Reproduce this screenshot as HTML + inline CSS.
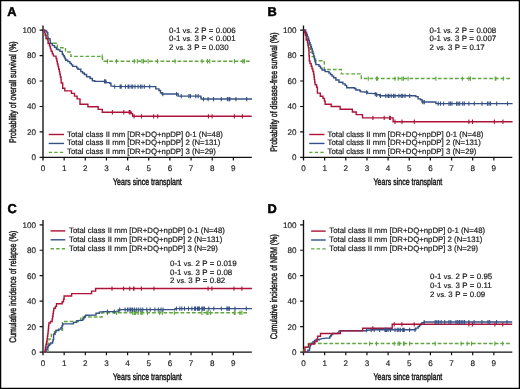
<!DOCTYPE html>
<html><head><meta charset="utf-8"><style>
html,body{margin:0;padding:0;background:#fff}
svg{display:block;will-change:transform}
text{font-family:"Liberation Sans", sans-serif;fill:#1a1a1a;text-rendering:geometricPrecision}
.tk{font-size:8.1px;stroke:#1a1a1a;stroke-width:0.15px}
.ti{font-size:9.6px;stroke:#1a1a1a;stroke-width:0.45px}
.pl{font-size:12.8px;font-weight:bold;fill:#000;stroke:#000;stroke-width:0.5px}
.pv{font-size:7.9px;word-spacing:0.25px;stroke:#1a1a1a;stroke-width:0.2px}
.lg{font-size:7.8px;stroke:#1a1a1a;stroke-width:0.2px}
</style></head><body>
<svg width="520" height="389" viewBox="0 0 520 389">
<rect x="0.6" y="0.6" width="518.8" height="387.8" fill="#fff" stroke="#000" stroke-width="1.3"/>
<g><path d="M43 160.6V25.4M39.6 157.4H251.8" stroke="#111" stroke-width="1.35" fill="none"/><path d="M39.6 131.94H43M39.6 106.48H43M39.6 81.02H43M39.6 55.56H43M39.6 30.1H43M64.15 157.4V160.6M85.3 157.4V160.6M106.45 157.4V160.6M127.6 157.4V160.6M148.75 157.4V160.6M169.9 157.4V160.6M191.05 157.4V160.6M212.2 157.4V160.6M233.35 157.4V160.6" stroke="#111" stroke-width="1.2" fill="none"/><text x="36.1" y="160.3" text-anchor="end" class="tk">0</text><text x="36.1" y="134.84" text-anchor="end" class="tk">20</text><text x="36.1" y="109.38" text-anchor="end" class="tk">40</text><text x="36.1" y="83.92" text-anchor="end" class="tk">60</text><text x="36.1" y="58.46" text-anchor="end" class="tk">80</text><text x="36.1" y="33" text-anchor="end" class="tk">100</text><text x="43" y="171" text-anchor="middle" class="tk">0</text><text x="64.15" y="171" text-anchor="middle" class="tk">1</text><text x="85.3" y="171" text-anchor="middle" class="tk">2</text><text x="106.45" y="171" text-anchor="middle" class="tk">3</text><text x="127.6" y="171" text-anchor="middle" class="tk">4</text><text x="148.75" y="171" text-anchor="middle" class="tk">5</text><text x="169.9" y="171" text-anchor="middle" class="tk">6</text><text x="191.05" y="171" text-anchor="middle" class="tk">7</text><text x="212.2" y="171" text-anchor="middle" class="tk">8</text><text x="233.35" y="171" text-anchor="middle" class="tk">9</text><text transform="translate(16.2 92.1) rotate(-90) scale(0.73 1)" text-anchor="middle" class="ti">Probability of overall survival (%)</text><text transform="translate(147.4 184.8) scale(0.73 1)" text-anchor="middle" class="ti">Years since transplant</text><text x="7.3" y="15.8" class="pl">A</text><text x="169" y="32.5" class="pv">0-1 <tspan font-size="7.1px">vs.</tspan> 2 P = 0.006</text><text x="169" y="41.3" class="pv">0-1 <tspan font-size="7.1px">vs.</tspan> 3 P &lt; 0.001</text><text x="169" y="50.1" class="pv">2 <tspan font-size="7.1px">vs.</tspan> 3 P = 0.030</text><path d="M48.7 134.5H64" stroke="#ae1238" stroke-width="1.4" fill="none"/><text x="67.1" y="136.6" class="lg">Total class II mm [DR+DQ+npDP] 0-1 (N=48)</text><path d="M48.7 143.45H64" stroke="#355184" stroke-width="1.4" fill="none"/><text x="67.1" y="145.3" class="lg">Total class II mm [DR+DQ+npDP] 2 (N=131)</text><path d="M48.7 152.4H64" stroke="#60a640" stroke-width="1.4" stroke-dasharray="3.3 2.3" fill="none"/><text x="67.1" y="154" class="lg">Total class II mm [DR+DQ+npDP] 3 (N=29)</text><path d="M43.3 30.2L44.6 30.2L44.6 34.6L46.2 34.6L46.2 39L48.3 39L48.3 43.2L57.4 43.2L57.4 47.7L65.5 47.7L65.5 52L70.9 52L70.9 56.4L102.5 56.4L102.5 61.2L251.4 61.2L251.4 61.2" stroke="#60a640" stroke-width="1.4" fill="none" stroke-dasharray="3.7 2"/><path d="M43.3 30.2L46 30.5L46.3 31.5L47 31.5L47 32.7L47.8 32.7L47.8 35.2L48.1 38.1L49.6 38.6L49.95 38.6L49.95 40.15L50.3 40.15L50.3 41.7L50.6 43.5L52.4 43.5L52.4 45.6L54.6 45.6L54.6 47.4L56.4 47.4L56.4 49.2L58.2 49.2L58.2 49.9L60 49.9L60 51.4L62.3 51.4L62.3 54.2L63.3 54.2L63.3 55.7L64.3 55.7L64.3 57.2L65 57.2L65 58.75L65.7 58.75L65.7 60.3L67.8 60.3L67.8 61.6L70 61.6L70 63.4L71.35 63.4L71.35 64.9L72.7 64.9L72.7 66.4L75.6 66.4L76.75 66.4L76.75 67.85L77.9 67.85L77.9 69.3L80.8 69.3L80.8 71.6L82.55 71.6L82.55 73.05L84.3 73.05L84.3 74.5L86.6 74.5L86.6 76.8L90.1 76.8L90.1 78.5L92.4 78.5L92.4 80.8L94.7 80.8L94.7 81.4L103.9 81.4L106.2 81.4L106.2 82.6L109.7 82.6L109.7 83.2L110.9 83.2L110.9 86L114.3 86.4L154.3 86.6L155.8 86.6L155.8 88.9L158.9 88.9L158.9 90.5L160.5 90.5L160.5 92.8L162 92.8L162 94L176.6 94L178.2 94L178.2 96.1L200.5 96.1L200.85 96.1L200.85 97.55L201.2 97.55L201.2 99L252.1 99" stroke="#355184" stroke-width="1.4" fill="none"/><path d="M43.3 30.2L44.3 30.4L44.6 32.8L45.2 33L45.3 35.5L46 35.6L46 38.3L47.6 38.3L47.9 40.9L48.2 40.9L48.2 43.5L49.4 43.5L49.6 46.1L50.2 46.1L50.4 48.7L51 48.8L51.2 51.3L52.2 51.3L52.4 53.9L53.3 53.9L53.4 55.9L56 56.2L56.2 58.8L56.8 58.8L56.9 61.4L57.3 61.4L57.4 64L58 64L58.1 66.6L58.6 66.6L58.7 69.2L59.3 69.2L59.4 71.8L59.8 71.8L59.9 74.4L60.3 74.4L60.4 77L61 77L61 79.6L61.2 79.6L61.2 83L62.7 83L62.7 88.3L64.8 88.3L64.8 90.9L71.5 90.9L71.5 93.4L74.5 93.4L74.5 96.1L77.1 96.1L77.1 98.9L80 98.9L80 104.3L87.9 104.3L87.9 106.8L98.2 106.8L98.2 109.4L102.3 109.4L102.3 112.2L131.4 112.2L131.4 113.6L132.6 113.6L132.6 116.3L251.7 116.3" stroke="#ae1238" stroke-width="1.4" fill="none"/><path d="M102.2 54.3V58.6M107.4 59.1V63.4M116.5 59.1V63.4M134.3 59.1V63.4M137.3 59.1V63.4M142 59.1V63.4M143.5 59.1V63.4M148.1 59.1V63.4M157.4 59.1V63.4M175.1 59.1V63.4M202 59.1V63.4M207.4 59.1V63.4M209.7 59.1V63.4M234.4 59.1V63.4M242.9 59.1V63.4M244.4 59.1V63.4" stroke="#60a640" stroke-width="1.1" fill="none"/><path d="M104.5 79.3V83.6M105.7 79.3V83.6M114.7 84.4V88.7M120.1 84.4V88.7M121.2 84.4V88.7M125.5 84.4V88.7M128.1 84.4V88.7M128.9 84.4V88.7M131.2 84.4V88.7M132.7 84.4V88.7M135 84.4V88.7M138.1 84.4V88.7M140.4 84.4V88.7M142 84.4V88.7M144.3 84.4V88.7M149.7 84.4V88.7M162.8 91.9V96.2M176.6 91.9V96.2M181.3 94V98.3M188.9 94V98.3M190.4 94V98.3M195.8 94V98.3M198.1 94V98.3M203.5 96.9V101.2M208.1 96.9V101.2M213.5 96.9V101.2M221.3 96.9V101.2M227.4 96.9V101.2M229 96.9V101.2M229.8 96.9V101.2M235.9 96.9V101.2M246.7 96.9V101.2" stroke="#355184" stroke-width="1.1" fill="none"/><path d="M112.4 110.1V114.4M123.8 110.1V114.4M129.2 110.1V114.4M130.1 110.1V114.4M134.1 114.2V118.5M141.5 114.2V118.5M153.6 114.2V118.5M157.7 114.2V118.5M208.4 114.2V118.5M212.1 114.2V118.5M234.4 114.2V118.5M242.4 114.2V118.5" stroke="#ae1238" stroke-width="1.1" fill="none"/></g>
<g><path d="M303.5 160.6V25.4M300.1 157.4H512.3" stroke="#111" stroke-width="1.35" fill="none"/><path d="M300.1 131.94H303.5M300.1 106.48H303.5M300.1 81.02H303.5M300.1 55.56H303.5M300.1 30.1H303.5M324.65 157.4V160.6M345.8 157.4V160.6M366.95 157.4V160.6M388.1 157.4V160.6M409.25 157.4V160.6M430.4 157.4V160.6M451.55 157.4V160.6M472.7 157.4V160.6M493.85 157.4V160.6" stroke="#111" stroke-width="1.2" fill="none"/><text x="296.6" y="160.3" text-anchor="end" class="tk">0</text><text x="296.6" y="134.84" text-anchor="end" class="tk">20</text><text x="296.6" y="109.38" text-anchor="end" class="tk">40</text><text x="296.6" y="83.92" text-anchor="end" class="tk">60</text><text x="296.6" y="58.46" text-anchor="end" class="tk">80</text><text x="296.6" y="33" text-anchor="end" class="tk">100</text><text x="303.5" y="171" text-anchor="middle" class="tk">0</text><text x="324.65" y="171" text-anchor="middle" class="tk">1</text><text x="345.8" y="171" text-anchor="middle" class="tk">2</text><text x="366.95" y="171" text-anchor="middle" class="tk">3</text><text x="388.1" y="171" text-anchor="middle" class="tk">4</text><text x="409.25" y="171" text-anchor="middle" class="tk">5</text><text x="430.4" y="171" text-anchor="middle" class="tk">6</text><text x="451.55" y="171" text-anchor="middle" class="tk">7</text><text x="472.7" y="171" text-anchor="middle" class="tk">8</text><text x="493.85" y="171" text-anchor="middle" class="tk">9</text><text transform="translate(276.7 92.1) rotate(-90) scale(0.73 1)" text-anchor="middle" class="ti">Probability of disease-free survival (%)</text><text transform="translate(407.9 184.8) scale(0.73 1)" text-anchor="middle" class="ti">Years since transplant</text><text x="267.5" y="15.8" class="pl">B</text><text x="429.6" y="32.5" class="pv">0-1 <tspan font-size="7.1px">vs.</tspan> 2 P = 0.008</text><text x="429.6" y="41.3" class="pv">0-1 <tspan font-size="7.1px">vs.</tspan> 3 P = 0.007</text><text x="429.6" y="50.1" class="pv">2 <tspan font-size="7.1px">vs.</tspan> 3 P = 0.17</text><path d="M309.2 134.5H324.5" stroke="#ae1238" stroke-width="1.4" fill="none"/><text x="327.6" y="136.6" class="lg">Total class II mm [DR+DQ+npDP] 0-1 (N=48)</text><path d="M309.2 143.45H324.5" stroke="#355184" stroke-width="1.4" fill="none"/><text x="327.6" y="145.3" class="lg">Total class II mm [DR+DQ+npDP] 2 (N=131)</text><path d="M309.2 152.4H324.5" stroke="#60a640" stroke-width="1.4" stroke-dasharray="3.3 2.3" fill="none"/><text x="327.6" y="154" class="lg">Total class II mm [DR+DQ+npDP] 3 (N=29)</text><path d="M303.8 30.2L305 30.2L305 34.6L306.6 34.6L306.6 39L308.2 39L308.2 43.4L309.3 43.4L309.3 47.8L310.4 47.8L310.4 52.2L312.2 52.2L312.2 56.6L315.6 56.6L315.6 60.8L324.3 60.8L324.3 69.5L341.3 69.5L341.3 73.9L361.3 73.9L361.3 78.5L511.7 78.5L511.7 78.5" stroke="#60a640" stroke-width="1.4" fill="none" stroke-dasharray="3.7 2"/><path d="M303.8 30.2L304.8 30.3L305.7 30.3L305.7 32.4L306.6 32.4L306.6 34.5L307.3 34.5L307.3 36.35L308 36.35L308 38.2L308.7 38.2L308.7 40.5L309.4 40.5L309.4 42.8L310.1 42.8L310.1 44.65L310.8 44.65L310.8 46.5L311.5 46.5L311.5 48.8L312.2 48.8L312.2 51.1L312.9 51.1L312.9 53.45L313.6 53.45L313.6 55.8L314.05 55.8L314.05 57.65L314.5 57.65L314.5 59.5L314.97 59.5L314.97 61.2L315.43 61.2L315.43 62.9L315.9 62.9L315.9 64.6L319 64.6L319 66.2L320.5 66.2L320.5 68.1L322 68.1L322 70L325.1 70L325.1 71.6L329 71.6L329 73.1L330.5 73.1L330.5 74.6L332.05 74.6L332.05 76.15L333.6 76.15L333.6 77.7L335.9 77.7L335.9 80L339 80L339 82.3L342.8 82.3L342.8 83.9L345.1 83.9L345.1 85.4L346.7 85.4L346.7 87.7L354.4 87.7L354.4 88.5L355.9 88.5L355.9 90L359.8 90L359.8 90.8L360.5 90.8L360.5 91.6L365.2 92L367.5 92L367.5 93.1L374.4 93.6L376 93.6L376 94.7L379.6 94.7L379.6 95.8L414.3 95.8L415.8 95.8L415.8 96.6L418.1 96.6L418.1 98.9L420.5 98.9L420.5 99.7L422 99.7L422 102L434.3 102L435.9 102L435.9 103.6L512.6 103.6" stroke="#355184" stroke-width="1.4" fill="none"/><path d="M303.8 30.2L304.6 30.2L304.6 32.8L305.4 32.8L305.4 35.4L306.2 35.4L306.2 40L307.5 40L307.5 42.6L307.9 42.6L307.9 45.3L308.4 45.3L308.4 47.9L308.8 47.9L308.8 50.5L309 50.5L309 55.8L309.3 55.8L309.3 61L310 61L310 63.6L311.2 63.6L311.2 66.3L312 66.3L312 68.9L312.9 68.9L312.9 71.5L313.6 71.5L313.6 74.2L314 74.2L314 76.8L314.3 76.8L314.3 79.4L314.7 79.4L314.7 82.1L315.1 82.1L315.1 84.7L316.6 84.7L316.6 87.3L317.4 87.3L317.4 93.1L320.3 93.1L320.3 96.2L323 96.2L323 98.4L324.4 98.4L324.4 101L325.1 101L325.1 104.2L331.2 104.2L331.2 106.5L340.1 106.5L340.1 109.3L352.4 109.3L352.4 112L356.2 112L356.2 114.6L362.5 114.6L362.5 117.9L393.1 117.9L393.1 121.7L512.6 121.7L512.6 121.7" stroke="#ae1238" stroke-width="1.4" fill="none"/><path d="M368.3 76.4V80.7M376.5 76.4V80.7M377.5 76.4V80.7M395 76.4V80.7M398.1 76.4V80.7M402 76.4V80.7M403.5 76.4V80.7M408.1 76.4V80.7M435.9 76.4V80.7M462.3 76.4V80.7M468.9 76.4V80.7M470.5 76.4V80.7M495.2 76.4V80.7M495.9 76.4V80.7M503.3 76.4V80.7" stroke="#60a640" stroke-width="1.1" fill="none"/><path d="M366.7 90.3V94.6M375.2 91.9V96.2M376.7 92.6V96.9M380.4 93.7V98M385.8 93.7V98M388.1 93.7V98M388.9 93.7V98M391.2 93.7V98M393.5 93.7V98M395 93.7V98M398.9 93.7V98M401.2 93.7V98M402.7 93.7V98M405 93.7V98M409.7 93.7V98M422.8 99.9V104.2M424.3 99.9V104.2M438.2 101.5V105.8M440.5 101.5V105.8M443.6 101.5V105.8M448.9 101.5V105.8M450.4 101.5V105.8M451.9 101.5V105.8M456.6 101.5V105.8M458.1 101.5V105.8M459.7 101.5V105.8M462.7 101.5V105.8M464.3 101.5V105.8M468.9 101.5V105.8M474.3 101.5V105.8M482 101.5V105.8M487.4 101.5V105.8M489 101.5V105.8M490.5 101.5V105.8M496.7 101.5V105.8M507.5 101.5V105.8" stroke="#355184" stroke-width="1.1" fill="none"/><path d="M372.9 115.8V120.1M384.2 115.8V120.1M389.6 115.8V120.1M390.4 115.8V120.1M395 119.6V123.9M402 119.6V123.9M414.3 119.6V123.9M468.9 119.6V123.9M472.5 119.6V123.9M494.4 119.6V123.9M502.9 119.6V123.9" stroke="#ae1238" stroke-width="1.1" fill="none"/></g>
<g><path d="M43 355.3V220.1M39.6 352.1H251.8" stroke="#111" stroke-width="1.35" fill="none"/><path d="M39.6 326.64H43M39.6 301.18H43M39.6 275.72H43M39.6 250.26H43M39.6 224.8H43M64.15 352.1V355.3M85.3 352.1V355.3M106.45 352.1V355.3M127.6 352.1V355.3M148.75 352.1V355.3M169.9 352.1V355.3M191.05 352.1V355.3M212.2 352.1V355.3M233.35 352.1V355.3" stroke="#111" stroke-width="1.2" fill="none"/><text x="36.1" y="355" text-anchor="end" class="tk">0</text><text x="36.1" y="329.54" text-anchor="end" class="tk">20</text><text x="36.1" y="304.08" text-anchor="end" class="tk">40</text><text x="36.1" y="278.62" text-anchor="end" class="tk">60</text><text x="36.1" y="253.16" text-anchor="end" class="tk">80</text><text x="36.1" y="227.7" text-anchor="end" class="tk">100</text><text x="43" y="365.7" text-anchor="middle" class="tk">0</text><text x="64.15" y="365.7" text-anchor="middle" class="tk">1</text><text x="85.3" y="365.7" text-anchor="middle" class="tk">2</text><text x="106.45" y="365.7" text-anchor="middle" class="tk">3</text><text x="127.6" y="365.7" text-anchor="middle" class="tk">4</text><text x="148.75" y="365.7" text-anchor="middle" class="tk">5</text><text x="169.9" y="365.7" text-anchor="middle" class="tk">6</text><text x="191.05" y="365.7" text-anchor="middle" class="tk">7</text><text x="212.2" y="365.7" text-anchor="middle" class="tk">8</text><text x="233.35" y="365.7" text-anchor="middle" class="tk">9</text><text transform="translate(16.2 286.8) rotate(-90) scale(0.73 1)" text-anchor="middle" class="ti">Cumulative incidence of relapse (%)</text><text transform="translate(147.4 379.5) scale(0.73 1)" text-anchor="middle" class="ti">Years since transplant</text><text x="7.6" y="213.4" class="pl">C</text><text x="170" y="265.8" class="pv">0-1 <tspan font-size="7.1px">vs.</tspan> 2 P = 0.019</text><text x="170" y="274.6" class="pv">0-1 <tspan font-size="7.1px">vs.</tspan> 3 P = 0.08</text><text x="170" y="283.4" class="pv">2 <tspan font-size="7.1px">vs.</tspan> 3 P = 0.82</text><path d="M50.6 230.9H65.3" stroke="#ae1238" stroke-width="1.4" fill="none"/><text x="69.1" y="233.1" class="lg">Total class II mm [DR+DQ+npDP] 0-1 (N=48)</text><path d="M50.6 239.8H65.3" stroke="#355184" stroke-width="1.4" fill="none"/><text x="69.1" y="241.9" class="lg">Total class II mm [DR+DQ+npDP] 2 (N=131)</text><path d="M50.6 248.7H65.3" stroke="#60a640" stroke-width="1.4" stroke-dasharray="3.3 2.3" fill="none"/><text x="69.1" y="250.7" class="lg">Total class II mm [DR+DQ+npDP] 3 (N=29)</text><path d="M43.3 352.1L48 352.1L48 343.3L48.9 343.3L48.9 339L51.3 339L51.3 334.5L54.5 334.5L54.5 330.2L62.5 330.2L62.5 321.5L80.8 321.5L80.8 317L102 317L102 312.7L249 312.7L249 312.7" stroke="#60a640" stroke-width="1.4" fill="none" stroke-dasharray="3.7 2"/><path d="M43.3 352.1L45.2 352.1L45.2 351.3L46.15 351.3L46.15 349.45L47.1 349.45L47.1 347.6L47.8 347.6L47.8 346.45L48.5 346.45L48.5 345.3L49.65 345.3L49.65 344.15L50.8 344.15L50.8 343L52.6 343L52.6 341.1L53.1 341.1L53.1 339.5L53.6 339.5L53.6 337.9L53.6 334.2L55 334.2L55 332.4L55.9 332.4L55.9 330.5L58.7 330.5L58.7 329.1L61 329.1L61 327.7L61.9 327.7L61.9 325.9L62.7 325.9L62.7 323.9L71.2 323.9L73.5 323.9L73.5 322.4L76.6 322.4L76.6 320.9L79.7 320.4L82.7 320.4L82.7 319L83.67 319L83.67 317.73L84.63 317.73L84.63 316.47L85.6 316.47L85.6 315.2L95.4 315L96 315L96 313.3L99.4 313.3L99.4 312.1L104.3 311.6L114.3 311.6L118.2 311.6L118.2 310L122 309.6L173 309.6L175 309.6L175 308.6L251.9 308.6" stroke="#355184" stroke-width="1.4" fill="none"/><path d="M43.3 352.1L45.2 352.1L45.2 349.5L45.5 349.5L45.5 346.8L46 346.8L46 344.2L46.6 344.2L46.6 341.5L47.1 341.5L47.1 338.9L47.4 338.9L47.4 336.2L47.8 336.2L47.8 333.6L48.1 333.6L48.1 330.9L48.4 330.9L48.4 328.3L48.6 328.3L48.6 325.6L48.9 325.6L48.9 323L50.5 323L50.5 321.5L52.2 321.5L52.2 318.8L52.6 318.8L52.6 316.2L53 316.2L53 313.5L53.4 313.5L53.4 310.9L53.8 310.9L53.8 308.2L55.4 308.2L55.4 306.4L56.5 306.4L56.5 303.7L62.2 303.7L62.2 301.8L63.5 301.8L63.5 299.2L64.1 299.2L64.1 296L71.6 296L71.6 293.6L91.6 293.6L91.6 291.1L95.6 291.1L95.6 288.5L251.9 288.5L251.9 288.5" stroke="#ae1238" stroke-width="1.4" fill="none"/><path d="M107.4 310.6V314.9M116.6 310.6V314.9M132.7 310.6V314.9M134.3 310.6V314.9M135.4 310.6V314.9M138.1 310.6V314.9M140.8 310.6V314.9M142.1 310.6V314.9M147.5 310.6V314.9M159.6 310.6V314.9M162.3 310.6V314.9M174.4 310.6V314.9M201.9 310.6V314.9M206.9 310.6V314.9M208.1 310.6V314.9M210.6 310.6V314.9M234.4 310.6V314.9M235 310.6V314.9M240 310.6V314.9M241.9 310.6V314.9" stroke="#60a640" stroke-width="1.1" fill="none"/><path d="M107.4 309.5V313.8M114.3 309.5V313.8M119.7 307.5V311.8M125.1 307.5V311.8M127.4 307.5V311.8M129 307.5V311.8M130.5 307.5V311.8M132.8 307.5V311.8M132 307.5V311.8M134.7 307.5V311.8M136.7 307.5V311.8M138.7 307.5V311.8M140.8 307.5V311.8M142.8 307.5V311.8M146.8 307.5V311.8M150.2 307.5V311.8M154.9 307.5V311.8M158.3 307.5V311.8M161 307.5V311.8M163 307.5V311.8M176.4 306.5V310.8M179.8 306.5V310.8M181.8 306.5V310.8M184.5 306.5V310.8M188.5 306.5V310.8M191.9 306.5V310.8M194.6 306.5V310.8M198.6 306.5V310.8M195.6 306.5V310.8M197.5 306.5V310.8M199.4 306.5V310.8M201.9 306.5V310.8M203.1 306.5V310.8M204.4 306.5V310.8M208.8 306.5V310.8M213.8 306.5V310.8M221.3 306.5V310.8M226.9 306.5V310.8M228.1 306.5V310.8M229.4 306.5V310.8M235 306.5V310.8M246.3 306.5V310.8" stroke="#355184" stroke-width="1.1" fill="none"/><path d="M112 286.4V290.7M123.6 286.4V290.7M129.7 286.4V290.7M133.6 286.4V290.7M134 286.4V290.7M141.4 286.4V290.7M154 286.4V290.7M208.1 286.4V290.7M211.9 286.4V290.7M234 286.4V290.7M241.9 286.4V290.7" stroke="#ae1238" stroke-width="1.1" fill="none"/></g>
<g><path d="M303.5 355.3V220.1M300.1 352.1H512.3" stroke="#111" stroke-width="1.35" fill="none"/><path d="M300.1 326.64H303.5M300.1 301.18H303.5M300.1 275.72H303.5M300.1 250.26H303.5M300.1 224.8H303.5M324.65 352.1V355.3M345.8 352.1V355.3M366.95 352.1V355.3M388.1 352.1V355.3M409.25 352.1V355.3M430.4 352.1V355.3M451.55 352.1V355.3M472.7 352.1V355.3M493.85 352.1V355.3" stroke="#111" stroke-width="1.2" fill="none"/><text x="296.6" y="355" text-anchor="end" class="tk">0</text><text x="296.6" y="329.54" text-anchor="end" class="tk">20</text><text x="296.6" y="304.08" text-anchor="end" class="tk">40</text><text x="296.6" y="278.62" text-anchor="end" class="tk">60</text><text x="296.6" y="253.16" text-anchor="end" class="tk">80</text><text x="296.6" y="227.7" text-anchor="end" class="tk">100</text><text x="303.5" y="365.7" text-anchor="middle" class="tk">0</text><text x="324.65" y="365.7" text-anchor="middle" class="tk">1</text><text x="345.8" y="365.7" text-anchor="middle" class="tk">2</text><text x="366.95" y="365.7" text-anchor="middle" class="tk">3</text><text x="388.1" y="365.7" text-anchor="middle" class="tk">4</text><text x="409.25" y="365.7" text-anchor="middle" class="tk">5</text><text x="430.4" y="365.7" text-anchor="middle" class="tk">6</text><text x="451.55" y="365.7" text-anchor="middle" class="tk">7</text><text x="472.7" y="365.7" text-anchor="middle" class="tk">8</text><text x="493.85" y="365.7" text-anchor="middle" class="tk">9</text><text transform="translate(276.7 286.8) rotate(-90) scale(0.73 1)" text-anchor="middle" class="ti">Cumulative incidence of NRM (%)</text><text transform="translate(407.9 379.5) scale(0.73 1)" text-anchor="middle" class="ti">Years since transplant</text><text x="267.5" y="213.4" class="pl">D</text><text x="430" y="278.9" class="pv">0-1 <tspan font-size="7.1px">vs.</tspan> 2 P = 0.95</text><text x="430" y="287.7" class="pv">0-1 <tspan font-size="7.1px">vs.</tspan> 3 P = 0.11</text><text x="430" y="296.5" class="pv">2 <tspan font-size="7.1px">vs.</tspan> 3 P = 0.09</text><path d="M311.1 231.1H325.7" stroke="#ae1238" stroke-width="1.4" fill="none"/><text x="329.3" y="233.3" class="lg">Total class II mm [DR+DQ+npDP] 0-1 (N=48)</text><path d="M311.1 240H325.7" stroke="#355184" stroke-width="1.4" fill="none"/><text x="329.3" y="242.1" class="lg">Total class II mm [DR+DQ+npDP] 2 (N=131)</text><path d="M311.1 248.9H325.7" stroke="#60a640" stroke-width="1.4" stroke-dasharray="3.3 2.3" fill="none"/><text x="329.3" y="250.9" class="lg">Total class II mm [DR+DQ+npDP] 3 (N=29)</text><path d="M303.8 352.1L304.2 352.1L304.2 347.2L308.5 347.2L308.5 343.5L511.3 343.5L511.3 343.5" stroke="#60a640" stroke-width="1.4" fill="none" stroke-dasharray="3.7 2"/><path d="M303.8 352.1L304.3 351.9L307.8 351.9L307.8 350.2L309.5 350.2L309.5 348.4L309.8 348.4L309.8 347L310.1 347L310.1 345.6L310.65 345.6L310.65 344.45L311.2 344.45L311.2 343.3L313 343.3L313 341.8L314.7 341.8L314.7 340.4L317 339.8L319.3 339.8L319.3 339.2L322.2 338.6L326.2 338.1L329.7 338.1L329.7 336.9L330.55 336.9L330.55 335.75L331.4 335.75L331.4 334.6L332.6 334.6L332.6 333.5L337.8 333.5L337.8 332.9L338.9 332.9L338.9 331.1L340.1 330.6L364.2 330.8L366.5 330.8L366.5 330.2L373.5 329.8L415 329.8L415.8 329.8L415.8 328.1L418.1 328.1L418.1 326.5L419.6 326.5L419.6 325L420.75 325L420.75 323.85L421.9 323.85L421.9 322.7L424.2 322.7L424.2 322L512.2 322" stroke="#355184" stroke-width="1.4" fill="none"/><path d="M303.8 352.1L305 352.1L305 347.1L308.5 347.1L308.5 344.1L314.5 344.1L314.5 341.5L317 341.5L317 338.9L317.6 338.9L317.6 336.2L320.5 336.2L320.5 333.5L340.4 333.5L340.4 330.9L362.6 330.9L362.6 328.2L392.2 328.2L392.2 324.3L512.2 324.3L512.2 324.3" stroke="#ae1238" stroke-width="1.4" fill="none"/><path d="M369.6 341.4V345.7M376.5 341.4V345.7M394.2 341.4V345.7M398.1 341.4V345.7M399.6 341.4V345.7M403.5 341.4V345.7M404.2 341.4V345.7M409.6 341.4V345.7M435.2 341.4V345.7M461.1 341.4V345.7M467.2 341.4V345.7M471.5 341.4V345.7M494.9 341.4V345.7M502.7 341.4V345.7" stroke="#60a640" stroke-width="1.1" fill="none"/><path d="M366.5 327.9V332.2M371.2 327.7V332M374.2 327.7V332M379.6 327.7V332M385 327.7V332M385.8 327.7V332M386.5 327.7V332M388.1 327.7V332M390.4 327.7V332M395 327.7V332M397.3 327.7V332M398.8 327.7V332M400.4 327.7V332M402.7 327.7V332M403.5 327.7V332M404.2 327.7V332M409.6 327.7V332M415 327.7V332M424.2 319.9V324.2M435.2 319.9V324.2M436.9 319.9V324.2M438.7 319.9V324.2M441.2 319.9V324.2M444.7 319.9V324.2M449 319.9V324.2M450.8 319.9V324.2M456 319.9V324.2M457.7 319.9V324.2M459.4 319.9V324.2M461.1 319.9V324.2M462.9 319.9V324.2M464.6 319.9V324.2M468.9 319.9V324.2M474.1 319.9V324.2M481.9 319.9V324.2M488 319.9V324.2M489.7 319.9V324.2M496.6 319.9V324.2M507 319.9V324.2" stroke="#355184" stroke-width="1.1" fill="none"/><path d="M372.7 326.2V330.5M394.2 322.2V326.5M401.9 322.2V326.5M414.2 322.2V326.5M468.9 322.2V326.5M472.4 322.2V326.5M494.9 322.2V326.5M502.7 322.2V326.5" stroke="#ae1238" stroke-width="1.1" fill="none"/></g>
</svg>
</body></html>
